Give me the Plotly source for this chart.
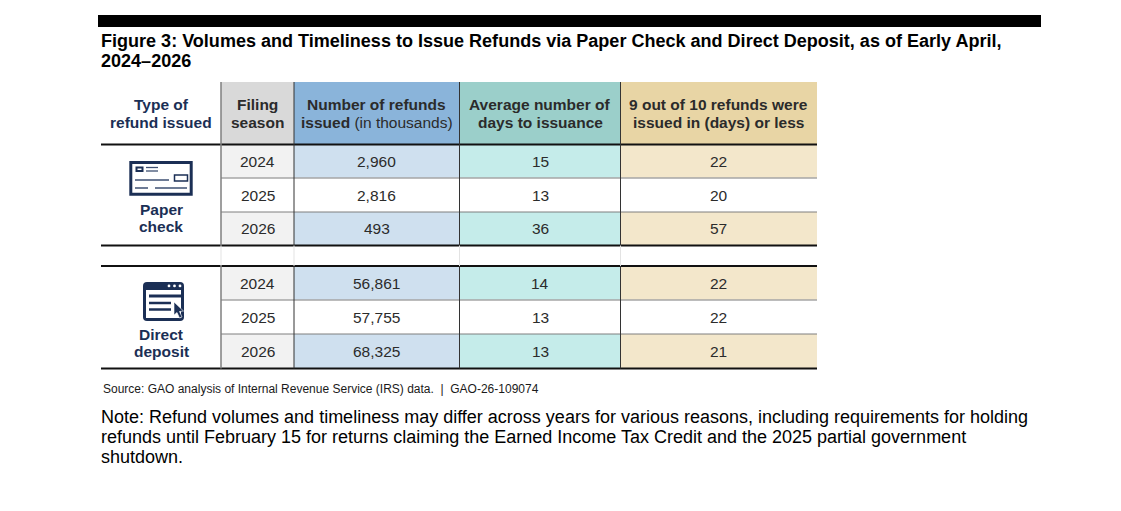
import plotly.graph_objects as go

W, H = 1121, 511
NAVY = "#1b2f55"
FONT = "Liberation Sans"

# data
refund_types = ["Paper check", "Direct deposit"]
seasons = ["2024", "2025", "2026"]
refunds_thousands = [[2960, 2816, 493], [56861, 57755, 68325]]
avg_days = [[15, 13, 36], [14, 13, 13]]
ninety_pct_days = [[22, 20, 57], [22, 22, 21]]

title_lines = [
    "Figure 3: Volumes and Timeliness to Issue Refunds via Paper Check and Direct Deposit, as of Early April,",
    "2024–2026",
]
headers = [
    ["Type of", "refund issued"],
    ["Filing", "season"],
    ["Number of refunds", "issued</b> (in thousands)<b>"],
    ["Average number of", "days to issuance"],
    ["9 out of 10 refunds were", "issued in (days) or less"],
]
source = "Source: GAO analysis of Internal Revenue Service (IRS) data.  |  GAO-26-109074"
note_lines = [
    "Note: Refund volumes and timeliness may differ across years for various reasons, including requirements for holding",
    "refunds until February 15 for returns claiming the Earned Income Tax Credit and the 2025 partial government",
    "shutdown.",
]

# table grid in page pixels
col_x = [101, 221, 294, 459.5, 620.5, 817]
head_y = [82, 144.5]
row_y = [[144.5, 178, 212, 245.5], [266, 300, 334, 368.5]]
header_fill = [None, "#d9d9d9", "#8ab4da", "#9bcfca", "#e8d5a5"]
band_fill = [None, "#f2f2f2", "#cfe0ef", "#c5ecea", "#f3e7cb"]

shapes = []
annotations = []


def rect(x0, y0, x1, y1, fill):
    shapes.append(dict(type="rect", x0=x0, y0=y0, x1=x1, y1=y1, fillcolor=fill, line_width=0, layer="below"))


def line(x0, y0, x1, y1, color, width):
    shapes.append(dict(type="line", x0=x0, y0=y0, x1=x1, y1=y1, line=dict(color=color, width=width)))


def text(x, y, s, size, color="#262626", anchor="center", bold=False):
    annotations.append(dict(
        x=x, y=y, text=f"<b>{s}</b>" if bold else s, showarrow=False, xanchor=anchor, yanchor="middle",
        borderpad=0, align="left" if anchor == "left" else "center",
        font=dict(family=FONT, size=size, color=color),
    ))


def path(d, fill=None, color=NAVY, width=0):
    shapes.append(dict(type="path", path=d, fillcolor=fill, line=dict(color=color, width=width)))


# top bar, title, footer
rect(98, 15, 1041, 27, "#000000")
for i, s in enumerate(title_lines):
    text(100, 41 + i * 20, s, 18.05, "#000000", "left", True)
text(102, 389, source, 12, "#1a1a1a", "left")
for y, s in zip([417, 436.5, 457], note_lines):
    text(100, y, s, 18, "#000000", "left")

# header
for c in range(1, 5):
    rect(col_x[c], head_y[0], col_x[c + 1], head_y[1], header_fill[c])
for c, lines in enumerate(headers):
    cx = (col_x[c] + col_x[c + 1]) / 2
    color = NAVY if c == 0 else "#2b2b2b"
    for i, s in enumerate(lines):
        text(cx, 104.5 + i * 17.5, s, 15.5, color, bold=True)

# body rows
for g in range(2):
    cols = [seasons, [f"{v:,}" for v in refunds_thousands[g]], avg_days[g], ninety_pct_days[g]]
    ys = row_y[g]
    for r in range(3):
        cy = (ys[r] + ys[r + 1]) / 2
        for c in range(4):
            x0, x1 = col_x[c + 1], col_x[c + 2]
            if r != 1:
                rect(x0, ys[r], x1, ys[r + 1], band_fill[c + 1])
            text((x0 + x1) / 2, cy, cols[c][r], 15.5, "#2b2b2b")
    line(col_x[0], ys[0], col_x[-1], ys[0], "#111111", 2)
    line(col_x[1], ys[1], col_x[-1], ys[1], "#a6a6a6", 1.5)
    line(col_x[1], ys[2], col_x[-1], ys[2], "#7f7f7f", 1)
    line(col_x[0], ys[3], col_x[-1], ys[3], "#111111", 2)

# vertical rules
for c in range(1, 5):
    color = "#7f7f7f" if c == 1 else "#333333"
    width = 1.5 if c == 1 else 1
    line(col_x[c], head_y[0], col_x[c], row_y[0][3], color, width)
    line(col_x[c], row_y[1][0], col_x[c], row_y[1][3], color, width)
    line(col_x[c], row_y[0][3], col_x[c], row_y[1][0], "#e3e3e3", 1)

# refund type labels
cx = (col_x[0] + col_x[1]) / 2
for g, name in enumerate(refund_types):
    top = [209, 334.5][g]
    for i, s in enumerate(name.split()):
        text(cx, top + i * 17, s, 15.5, NAVY, bold=True)

# paper check icon
shapes.append(dict(type="rect", x0=130.8, y0=162.5, x1=191.2, y1=194.2, line=dict(color=NAVY, width=3), fillcolor="#ffffff"))
shapes.append(dict(type="rect", x0=136.5, y0=167.5, x1=142.5, y1=171, line=dict(color=NAVY, width=2), fillcolor="#ffffff"))
line(146, 167.5, 158, 167.5, "#3d4f72", 1.3)
line(146, 171, 158, 171, "#3d4f72", 1.3)
shapes.append(dict(type="rect", x0=174.5, y0=175, x1=187.5, y1=181, line=dict(color=NAVY, width=1.5), fillcolor="#ffffff"))
line(135, 180, 169, 180, "#3d4f72", 1.5)
line(135, 188, 148, 188, "#3d4f72", 1.5)
line(155, 188, 187, 188, "#3d4f72", 1.5)

# direct deposit icon
path("M147,282 L180,282 Q184,282 184,286 L184,317 Q184,321 180,321 L147,321 Q143,321 143,317 L143,286 Q143,282 147,282 Z", NAVY)
shapes.append(dict(type="rect", x0=146, y0=290, x1=181, y1=318, fillcolor="#ffffff", line_width=0))
for mx in (169, 174.5, 180):
    shapes.append(dict(type="circle", x0=mx - 1.4, y0=284.5, x1=mx + 1.4, y1=287.3, fillcolor="#ffffff", line_width=0))
line(149, 296, 181, 296, NAVY, 3)
line(149, 303, 171, 303, NAVY, 2.5)
line(149, 309.5, 171, 309.5, NAVY, 2.5)
path("M174,302 L174,315 L177,312.5 L179.5,318 L182,317 L179.5,311.5 L183.5,311 Z", NAVY, "#ffffff", 0.6)

fig = go.Figure()
fig.update_layout(
    width=W, height=H, margin=dict(l=0, r=0, t=0, b=0), showlegend=False,
    paper_bgcolor="#ffffff", plot_bgcolor="#ffffff",
    xaxis=dict(range=[0, W], visible=False, fixedrange=True),
    yaxis=dict(range=[H, 0], visible=False, fixedrange=True),
    shapes=shapes, annotations=annotations,
)
fig.write_html("out.html", config={"displayModeBar": False},
               post_script="document.body.style.margin='0';document.body.style.overflow='hidden';")
